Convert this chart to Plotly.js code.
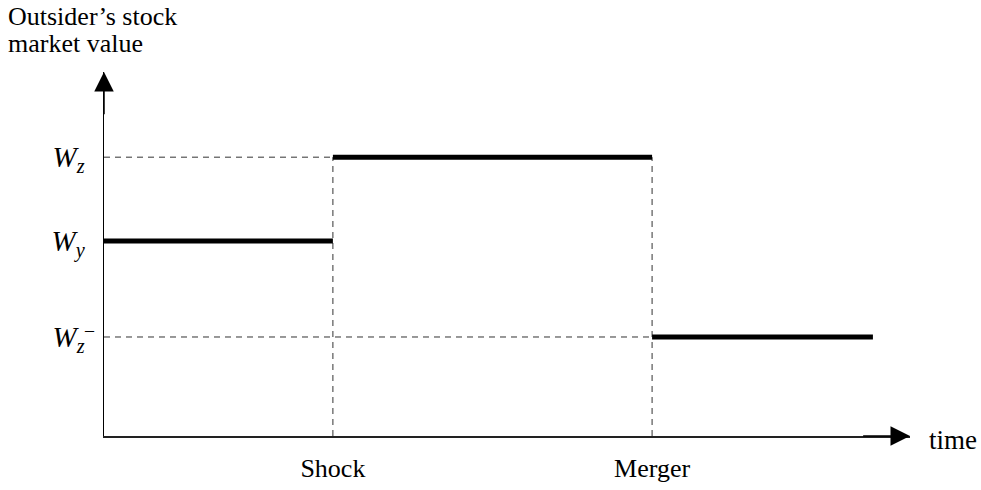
<!DOCTYPE html>
<html>
<head>
<meta charset="utf-8">
<script src="https://cdn.plot.ly/plotly-3.0.1.min.js"></script>
<style>html,body{margin:0;padding:0;background:#fff;}#chart{width:981px;height:490px;}</style>
</head>
<body>
<div id="chart"></div>
<script>
// Conceptual chart values (arbitrary units)
const eventNames = ['Shock', 'Merger'];
const eventTimes = [2.84, 6.80];
const startTime = 0;
const endTime = 9.54;
const levelLabels = ['<i>W</i><sub><i>z</i></sub>', '<i>W</i><sub><i>y</i></sub>', '<i>W</i><sub><i>z</i></sub>'];
const levelValues = [7.66, 5.36, 2.72];   // W_z, W_y, W_z^-
const yTitleLines = ['Outsider\u2019s stock', 'market value'];
const xTitle = 'time';

const Wz = levelValues[0], Wy = levelValues[1], WzMinus = levelValues[2];
const tShock = eventTimes[0], tMerger = eventTimes[1];

const dashStyle = {color: '#333', width: 1, dash: '6px,5px'};
const solidStyle = {color: '#000', width: 5};

const traces = [
  // dashed guides
  {x: [startTime, tShock], y: [Wz, Wz], mode: 'lines', line: dashStyle},
  {x: [startTime, tMerger], y: [WzMinus, WzMinus], mode: 'lines', line: dashStyle},
  {x: [tShock, tShock], y: [0, Wz], mode: 'lines', line: dashStyle},
  {x: [tMerger, tMerger], y: [0, Wz], mode: 'lines', line: dashStyle},
  // value path
  {x: [startTime, tShock], y: [Wy, Wy], mode: 'lines', line: solidStyle},
  {x: [tShock, tMerger], y: [Wz, Wz], mode: 'lines', line: solidStyle},
  {x: [tMerger, endTime], y: [WzMinus, WzMinus], mode: 'lines', line: solidStyle}
];

const serif = 'Liberation Serif, Times New Roman, serif';
const L = 104, R = 910, T = 72, B = 436;
const px = p => (p - L) / (R - L);
const py = p => (B - p) / (B - T);

const layout = {
  width: 981, height: 490,
  margin: {l: L, r: 981 - R, t: T, b: 490 - B, pad: 0},
  paper_bgcolor: '#fff', plot_bgcolor: '#fff',
  showlegend: false,
  font: {family: serif, color: '#000'},
  xaxis: {
    range: [0, 10], showgrid: false, zeroline: false,
    showline: true, linecolor: '#222', linewidth: 1.5,
    tickvals: eventTimes, ticktext: eventNames, ticks: '',
    ticklabelstandoff: 8,
    tickfont: {family: serif, size: 26, color: '#000'}
  },
  yaxis: {
    range: [0, 10], showgrid: false, zeroline: false,
    showline: true, linecolor: '#000', linewidth: 1.5,
    tickvals: levelValues, ticktext: levelLabels, ticks: '',
    ticklabelstandoff: 12,
    tickfont: {family: serif, size: 29, color: '#000'}
  },
  annotations: [
    {xref: 'paper', yref: 'paper', x: px(6), y: py(16), xanchor: 'left', yanchor: 'middle',
     text: yTitleLines[0], showarrow: false,
     font: {family: serif, size: 26, color: '#000'}},
    {xref: 'paper', yref: 'paper', x: px(6), y: py(43), xanchor: 'left', yanchor: 'middle',
     text: yTitleLines[1], showarrow: false,
     font: {family: serif, size: 26, color: '#000'}},
    {xref: 'paper', yref: 'paper', x: px(927), y: py(440), xanchor: 'left', yanchor: 'middle',
     text: xTitle, showarrow: false, font: {family: serif, size: 27, color: '#000'}},
    // minus sign above subscript of W_z^-
    {xref: 'paper', yref: 'paper', x: px(89), y: py(330), xanchor: 'center', yanchor: 'middle',
     text: '\u2013', showarrow: false, font: {family: serif, size: 18, color: '#000'}},
    // axis arrowheads
    {xref: 'x', yref: 'y', axref: 'x', ayref: 'y', x: 10, y: 0, ax: 9.4, ay: 0,
     text: '', showarrow: true, arrowhead: 2, arrowsize: 2.6, arrowwidth: 1.5, arrowcolor: '#000'},
    {xref: 'x', yref: 'y', axref: 'x', ayref: 'y', x: 0, y: 10, ax: 0, ay: 8.8,
     text: '', showarrow: true, arrowhead: 2, arrowsize: 2.6, arrowwidth: 1.5, arrowcolor: '#000'}
  ]
};

Plotly.newPlot('chart', traces, layout, {staticPlot: true, displayModeBar: false});
</script>
</body>
</html>
